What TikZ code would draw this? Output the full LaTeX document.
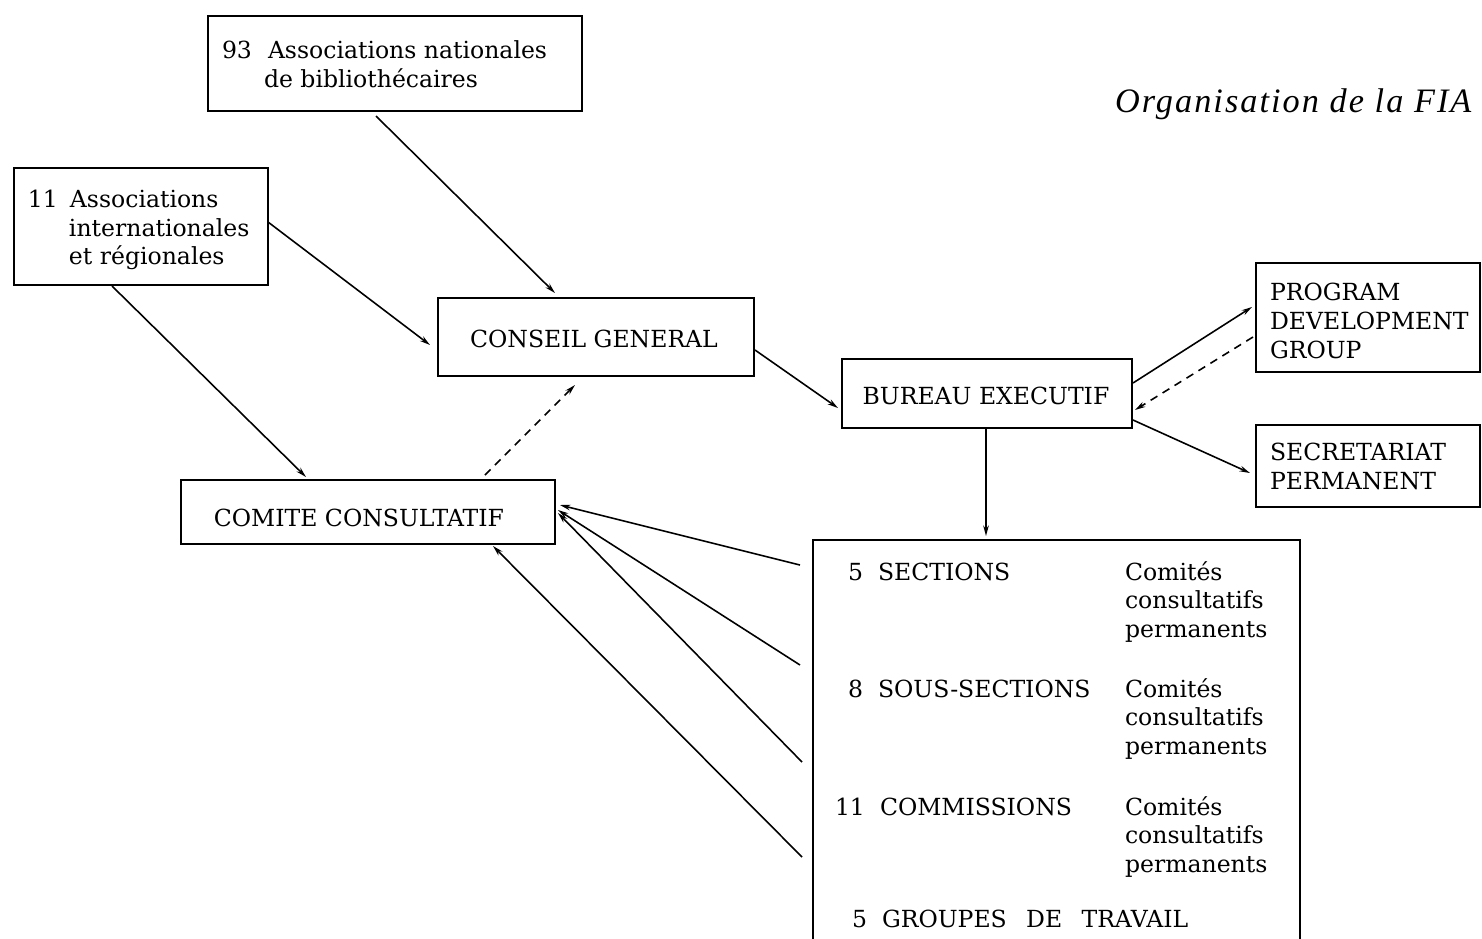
\documentclass[tikz,border=0pt]{standalone}
\usepackage{fontspec}
\setmainfont{DejaVu Serif}
\newfontfamily\titlefont[LetterSpace=6]{Liberation Serif}
\usetikzlibrary{arrows.meta}
\begin{document}
\begin{tikzpicture}[x=0.02cm, y=-0.02cm,
  box/.style={draw, line width=1.3pt, inner sep=0pt, outer sep=0pt, anchor=north west},
  wh/.style 2 args={minimum width=#1*0.02cm, minimum height=#2*0.02cm},
  txt/.style={inner sep=0pt, outer sep=0pt, anchor=base west, font=\fontsize{13.4}{16}\selectfont},
  ctxt/.style={txt, anchor=base},
  conn/.style={line width=0.9pt, -{Stealth[length=6pt,width=3.2pt]}},
  dconn/.style={conn, dash pattern=on 4.5pt off 3.5pt}]
\useasboundingbox (0,0) rectangle (1482,938);
\clip (0,0) rectangle (1482,938);

% title
\node[txt, font=\titlefont\itshape\fontsize{19.5}{23}\selectfont] (title) at (1115,112) {Organisation de la FIA};

% boxes
\node[box, wh={374}{95}] (nat) at (208,16) {};
\node[box, wh={254}{117}] (intl) at (14,168) {};
\node[box, wh={316}{78}] (conseil) at (438,298) {};
\node[box, wh={290}{69}] (bureau) at (842,359) {};
\node[box, wh={374}{64}] (comite) at (181,480) {};
\node[box, wh={224}{109}] (prog) at (1256,263) {};
\node[box, wh={224}{82}] (secr) at (1256,425) {};
\node[box, wh={487}{420}] (big) at (813,540) {};

% texts
\node[txt] (t93) at (222,58) {93};
\node[txt] (tnat1) at (268,58) {Associations nationales};
\node[txt] (tnat2) at (264,87) {de bibliothécaires};
\node[txt] (t11) at (28,207) {11};
\node[txt] (tint1) at (70,207) {Associations};
\node[txt] (tint2) at (69,236) {internationales};
\node[txt] (tint3) at (69,264) {et régionales};
\node[ctxt] (tcons) at (594,347) {CONSEIL GENERAL};
\node[ctxt] (tbur) at (986,404) {BUREAU EXECUTIF};
\node[ctxt] (tcom) at (359,526) {COMITE CONSULTATIF};
\node[txt] (tprog1) at (1270,300) {PROGRAM};
\node[txt] (tprog2) at (1270,329) {DEVELOPMENT};
\node[txt] (tprog3) at (1270,358) {GROUP};
\node[txt] (tsec1) at (1270,460) {SECRETARIAT};
\node[txt] (tsec2) at (1270,489) {PERMANENT};

\node[txt] (n5) at (848,580) {5};
\node[txt] (tsect) at (878,580) {SECTIONS};
\node[txt] (c1a) at (1125,580) {Comités};
\node[txt] (c1b) at (1125,608) {consultatifs};
\node[txt] (c1c) at (1125,637) {permanents};
\node[txt] (n8) at (848,697) {8};
\node[txt] (tsous) at (878,697) {SOUS-SECTIONS};
\node[txt] (c2a) at (1125,697) {Comités};
\node[txt] (c2b) at (1125,725) {consultatifs};
\node[txt] (c2c) at (1125,754) {permanents};
\node[txt] (n11) at (835,815) {11};
\node[txt] (tcomm) at (880,815) {COMMISSIONS};
\node[txt] (c3a) at (1125,815) {Comités};
\node[txt] (c3b) at (1125,843) {consultatifs};
\node[txt] (c3c) at (1125,872) {permanents};
\node[txt] (n5b) at (852,927) {5};
\node[txt] (tgroup) at (882,927) {GROUPES\hspace{11pt}DE\hspace{11pt}TRAVAIL};

% connectors
\draw[conn] ([shift={(168,5)}]nat.south west) -- ([shift={(117,-5)}]conseil.north west);
\draw[conn] ([shift={(0,54)}]intl.north east) -- ([shift={(-8,47)}]conseil.north west);
\draw[conn] ([shift={(98,1)}]intl.south west) -- ([shift={(125,-3)}]comite.north west);
\draw[dconn] ([shift={(304,-5)}]comite.north west) -- ([shift={(137,9)}]conseil.south west);
\draw[conn] ([shift={(1,52)}]conseil.north east) -- ([shift={(-4,49)}]bureau.north west);
\draw[conn] ([shift={(1,24)}]bureau.north east) -- ([shift={(-4,44)}]prog.north west);
\draw[dconn] ([shift={(-3,74)}]prog.north west) -- ([shift={(3,51)}]bureau.north east);
\draw[conn] ([shift={(1,61)}]bureau.north east) -- ([shift={(-6,48)}]secr.north west);
\draw[conn] ([shift={(144,0)}]bureau.south west) -- ([shift={(173,-4)}]big.north west);
\draw[conn] ([shift={(-13,25)}]big.north west) -- ([shift={(5,25)}]comite.north east);
\draw[conn] ([shift={(-13,125)}]big.north west) -- ([shift={(3,30)}]comite.north east);
\draw[conn] ([shift={(-11,222)}]big.north west) -- ([shift={(3,33)}]comite.north east);
\draw[conn] ([shift={(-11,317)}]big.north west) -- ([shift={(312,2)}]comite.south west);
\end{tikzpicture}
\end{document}
